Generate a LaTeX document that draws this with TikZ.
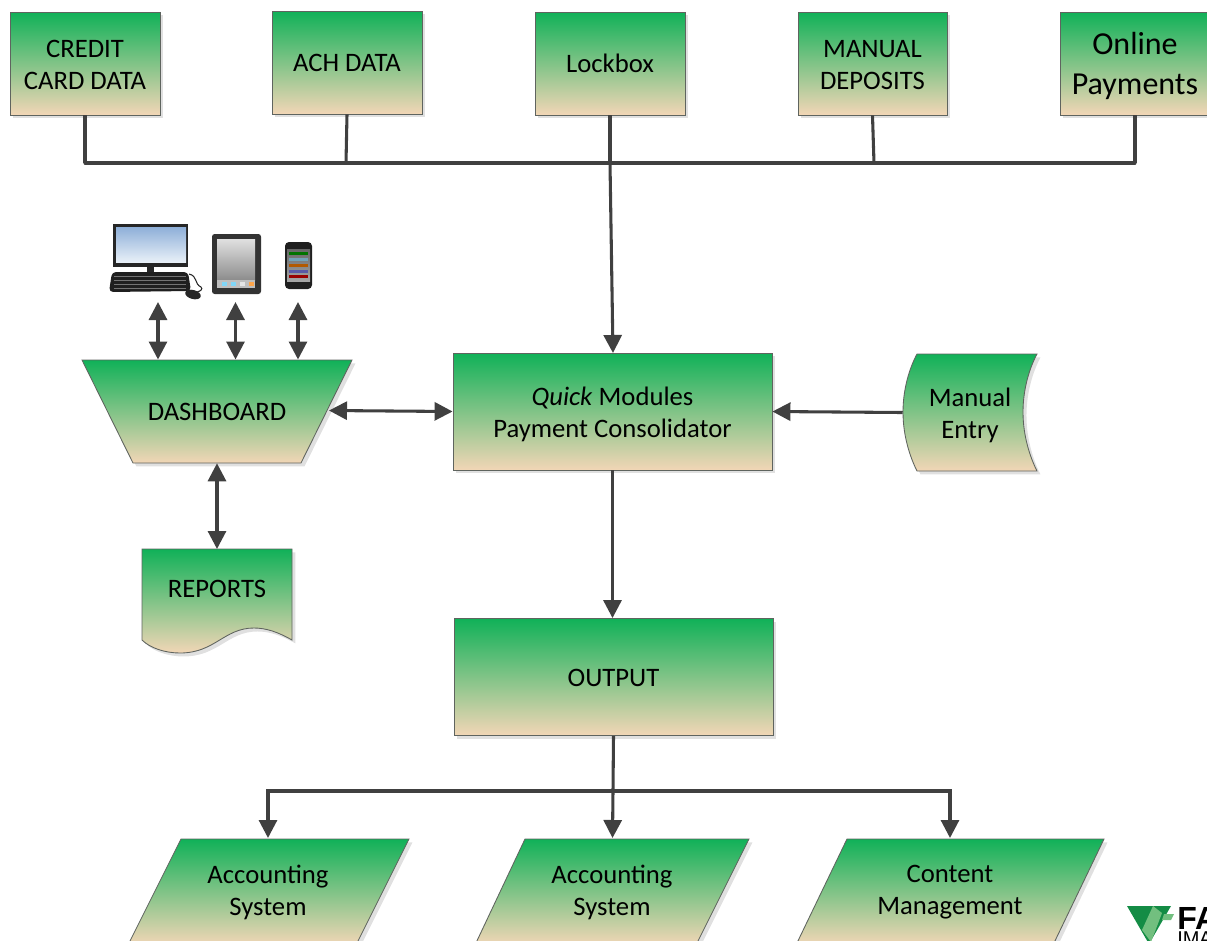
\documentclass[tikz,border=0pt]{standalone}
\usepackage{fontspec}
\setmainfont{Carlito}
\newfontfamily\logofont{Liberation Sans}
\usetikzlibrary{arrows.meta,calc}
\definecolor{gtop}{HTML}{10B158}
\definecolor{gbot}{HTML}{F2D6B6}
\definecolor{edgec}{HTML}{5F645F}
\definecolor{linec}{HTML}{404040}
\definecolor{shadowc}{HTML}{E0E0E0}
\definecolor{logodark}{HTML}{148C45}
\definecolor{logolight}{HTML}{72BF7F}
\newcommand{\dropline}[1]{\rule{0pt}{#1}}
\tikzset{
  x=0.75pt,y=-0.75pt,
  flowfill/.style={top color=gtop,bottom color=gbot,draw=edgec,line width=0.65pt,
    preaction={fill=shadowc,draw=none,transform canvas={shift={(2.6pt,-2.6pt)}}}},
  boxnode/.style 2 args={flowfill,rectangle,inner sep=0pt,align=center,font=\fontsize{20}{24}\selectfont,
    minimum width=#1*0.75pt,minimum height=#2*0.75pt},
  ghost/.style 2 args={rectangle,inner sep=0pt,align=center,font=\fontsize{20}{24}\selectfont,
    minimum width=#1*0.75pt,minimum height=#2*0.75pt},
  plain/.style={draw=linec,line width=2.3pt},
  oneway/.style={plain,-{Triangle[width=13.5pt,length=13.5pt]}},
  twoway/.style={plain,{Triangle[width=13.5pt,length=13.5pt]}-{Triangle[width=13.5pt,length=13.5pt]}},
}
\begin{document}
\begin{tikzpicture}
\useasboundingbox (0,0) rectangle (1207,940);
\clip (0,0) rectangle (1207,940);

% source boxes
\node[boxnode={150}{103}] (credit) at (85,63.5) {\dropline{15pt}CREDIT\\CARD DATA};
\node[boxnode={150}{103}] (ach) at (347,62.5) {ACH DATA};
\node[boxnode={150}{103}] (lockbox) at (610,63.5) {Lockbox};
\node[boxnode={149}{103}] (manual) at (872.5,63.5) {\dropline{15pt}MANUAL\\DEPOSITS};
\node[boxnode={150}{103},font=\fontsize{24}{29.5}\selectfont] (online) at (1135,63.5) {\dropline{20.5pt}Online\\Payments};

% bus
\coordinate (busa) at (85,163);
\coordinate (busb) at (346,163);
\coordinate (busc) at (610,163);
\coordinate (busd) at (874,163);
\coordinate (buse) at (1135,163);
\draw[plain,line cap=round] (busa) -- (buse);
\draw[plain] (credit.south) -- (busa);
\draw[plain] (ach.south) -- (busb);
\draw[plain] (manual.south) -- (busd);
\draw[plain] (online.south) -- (buse);

% consolidator, output
\node[boxnode={319}{117}] (cons) at (612.5,411.5) {\dropline{17.5pt}\textit{Quick} Modules\\Payment Consolidator};
\node[boxnode={319}{117}] (output) at (613.5,677) {\dropline{14pt}OUTPUT};

% dashboard
\path[flowfill] (82,360) -- (352,360) -- (301,463) -- (133,463) -- cycle;
\node[ghost={218}{103}] (dash) at (217,411.5) {DASHBOARD};

% reports
\path[flowfill] (142,549) -- (292,549) -- (292,640) .. controls (278,632) and (266,628) .. (254,628)
  .. controls (224,628) and (215,653) .. (180,653) .. controls (165,653) and (150,648) .. (142,640) -- cycle;
\node[ghost={150}{80}] (reports) at (217,589) {REPORTS};

% manual entry
\path[flowfill] (917,354) -- (1037,354) .. controls (1030,367) and (1023,388) .. (1023,412)
  .. controls (1023,436) and (1030,457) .. (1037,471) -- (917,471)
  .. controls (910,457) and (903,436) .. (903,412) .. controls (903,388) and (910,367) .. (917,354) -- cycle;
\node[ghost={134}{117}] (entry) at (970,412.5) {\dropline{17.5pt}Manual\\Entry};

% outputs (parallelograms), cut by the lower edge
\path[flowfill] (181,839) -- (409,839) -- (356,945) -- (128,945) -- cycle;
\node[ghost={228}{102}] (acca) at (268,892) {Accounting\\System};
\path[flowfill] (525,839) -- (749,839) -- (696,945) -- (475,945) -- cycle;
\node[ghost={224}{102}] (accb) at (612,892) {Accounting\\System};
\path[flowfill] (847,839) -- (1104,839) -- (1053,945) -- (796,945) -- cycle;
\node[ghost={257}{102}] (content) at (950,892) {Content\\Management};

% connectors
\draw[plain] (lockbox.south) -- (busc);
\draw[oneway] (busc) -- (613,353);
\coordinate (dasheast) at (329,410.5);
\draw[twoway] (dasheast) -- (cons.west);
\draw[oneway] (entry.west) -- (cons.east);
\draw[oneway] (cons.south) -- (output.north -| cons.south);
\draw[twoway] (dash.south) -- (reports.north |- 0,549);
\coordinate (outbus) at (613,791);
\draw[plain] (output.south) -- (outbus);
\draw[oneway] (outbus) -- (612.5,838);
\draw[oneway] (outbus) -| (268,838);
\draw[oneway] (outbus) -| (950,838);

% devices
\coordinate (pcport) at (158,302);
\coordinate (tabport) at (235.5,302);
\coordinate (phoneport) at (298,302);
\draw[twoway] (pcport) -- (158,359.5);
\draw[twoway] (tabport) -- (235.5,359.5);
\draw[twoway] (phoneport) -- (298,359.5);

% computer
\definecolor{scrtop}{HTML}{8EAFD8}
\definecolor{scrbot}{HTML}{E8F0F8}
\fill[black!85] (113,224) rectangle (188,267);
\shade[top color=scrtop,bottom color=scrbot] (116,227) rectangle (186,262);
\fill[black!85] (147,267) rectangle (154,273);
\fill[black!88,rounded corners=3pt] (112,272) -- (188,272) -- (191,291) -- (109,292) -- cycle;
\foreach \yy in {276,280,284,288}{\draw[black!55,line width=0.3pt] (114,\yy) -- (186,\yy);}
\draw[black!85,line width=0.8pt] (189,274) .. controls (198,276) and (194,284) .. (201,287) .. controls (203,289) and (201,291) .. (197,292);
\fill[black!85,rotate around={-15:(193,294.5)}] (193,294.5) ellipse (8 and 4.5);

% tablet
\fill[black!80,rounded corners=2pt] (212,234) rectangle (261,294);
\shade[top color=black!12,bottom color=black!45] (217,239) rectangle (255,280);
\fill[black!25] (217,280) rectangle (255,288);
\foreach \xx/\cc in {222/cyan!50,231/cyan!50,240/black!10,249/orange!70}{\fill[\cc] (\xx,282) rectangle ++(5,4);}

% phone
\fill[black!88,rounded corners=3pt] (285,242) rectangle (312,289);
\shade[top color=black!60,bottom color=gray!70] (287,249) rectangle (310,281);
\foreach \yy/\cc in {252/green!45!black,258/cyan!40!gray,264/orange!70!black,270/blue!30!gray,275/red!60!black}{
  \fill[\cc] (289,\yy) rectangle ++(19,3);}

% logo
\fill[logodark] (1127,906) -- (1171,906) -- (1149,944) -- cycle;
\fill[logolight] (1153,906) -- (1162,913) -- (1151,942) -- (1142,930) -- cycle;
\fill[logolight] (1164,914) -- (1174,914) -- (1171,920) -- (1162,920) -- cycle;
\node[inner sep=0pt,anchor=base west,font=\logofont\bfseries\fontsize{24}{24}\selectfont] (logotext) at (1177,929) {FA};
\node[inner sep=0pt,anchor=base west,font=\logofont\fontsize{15}{15}\selectfont] (logosub) at (1177,945) {IMA};
\end{tikzpicture}
\end{document}
